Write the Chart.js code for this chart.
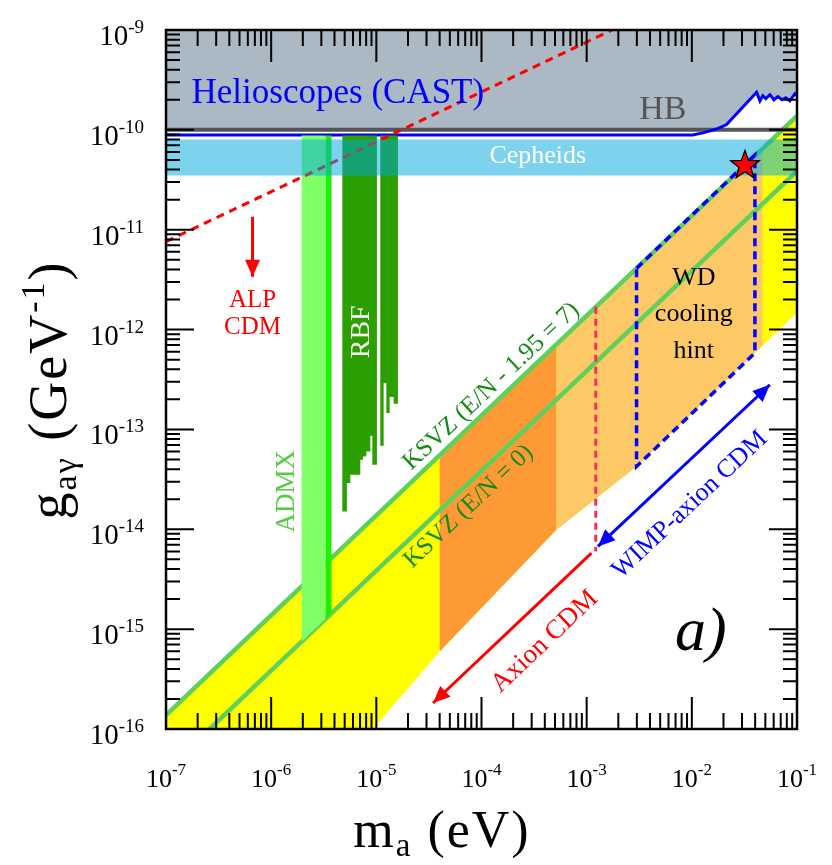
<!DOCTYPE html>
<html>
<head>
<meta charset="utf-8">
<script src="https://cdn.jsdelivr.net/npm/chart.js@4.4.1/dist/chart.umd.min.js"></script>
<style>
html,body{margin:0;padding:0;background:#fff}
canvas{display:block}
</style>
</head>
<body>
<canvas id="plot" width="832" height="865"></canvas>
<script>
// axis decades (log10) and minor tick multipliers
const xDecades = [-7, -6, -5, -4, -3, -2, -1]
const yDecades = [-16, -15, -14, -13, -12, -11, -10, -9]
const minorSteps = [2, 3, 4, 5, 6, 7, 8, 9]

// KSVZ lines, read at both edges of the plot
const ksvzMass = [1e-7, 1e-1]
const ksvzHighG = [1.38e-16, 1.38e-10]
const ksvzZeroG = [3.85e-17, 3.85e-11]

// lower edge of the yellow band, right to left
const bandLowMass = [1e-1, 3.98e-2, 2.98e-3, 5.16e-4, 4.0e-5, 9.3e-6, 4.5e-6, 1e-7]
const bandLowG = [1.47e-12, 5.83e-13, 4.26e-14, 9.9e-15, 5.96e-16, 1.0e-16, 4e-17, 4e-17]

// axion CDM (dark orange) and WIMP-axion CDM (light orange) pieces of the band
const orangeMass = [4.0e-5, 5.16e-4, 5.16e-4, 4.0e-5]
const orangeG = [5.52e-14, 7.12e-13, 9.9e-15, 5.96e-16]
const lightOrangeMass = [5.16e-4, 4.7e-2, 4.7e-2, 3.98e-2, 2.98e-3, 5.16e-4]
const lightOrangeG = [7.12e-13, 6.49e-11, 6.9e-13, 5.83e-13, 4.26e-14, 9.9e-15]

// CAST limit
const castMass = [1e-7, 5e-3, 1.02e-2, 1.27e-2, 1.72e-2, 2.14e-2, 4.13e-2, 4.44e-2, 4.73e-2, 5.05e-2, 5.52e-2, 6.03e-2, 6.58e-2, 7.18e-2, 7.83e-2, 8.55e-2, 9.55e-2, 1e-1]
const castG = [8.87e-11, 8.87e-11, 8.9e-11, 9.33e-11, 1.02e-10, 1.13e-10, 2.38e-10, 1.95e-10, 2.2e-10, 2.05e-10, 2.25e-10, 2.0e-10, 2.15e-10, 2.0e-10, 2.1e-10, 1.95e-10, 2.3e-10, 2.2e-10]

// excluded helioscope / HB region (outline)
const helioMass = [1e-7, 1e-1, 1e-1, 9.55e-2, 8.55e-2, 7.83e-2, 7.18e-2, 6.58e-2, 6.03e-2, 5.52e-2, 5.05e-2, 4.73e-2, 4.44e-2, 4.13e-2, 2.14e-2, 1.68e-2, 1e-7]
const helioG = [1e-9, 1e-9, 2.2e-10, 2.3e-10, 1.95e-10, 2.1e-10, 2.0e-10, 2.15e-10, 2.0e-10, 2.25e-10, 2.05e-10, 2.2e-10, 1.95e-10, 2.38e-10, 1.13e-10, 1.0e-10, 1.0e-10]
const hbMass = [1e-7, 1e-1]
const hbG = [1.0e-10, 1.0e-10]

// Cepheids band
const cephMass = [1e-7, 1e-1, 1e-1, 1e-7]
const cephG = [3.5e-11, 3.5e-11, 8.0e-11, 8.0e-11]

// ADMX
const admxMass = [1.95e-6, 3.3e-6, 3.3e-6, 1.95e-6]
const admxG = [8.8e-11, 8.8e-11, 1.27e-15, 7.5e-16]
const admxEdgeMass = [3.3e-6, 3.75e-6, 3.75e-6, 3.3e-6]
const admxEdgeG = [8.8e-11, 8.8e-11, 1.44e-15, 1.27e-15]

// RBF (two stepped blocks)
const rbfMassA = [4.75e-6, 4.75e-6, 5.25e-6, 5.25e-6, 5.66e-6, 5.66e-6, 7.04e-6, 7.04e-6, 7.46e-6, 7.46e-6, 8.03e-6, 8.03e-6, 8.77e-6, 8.77e-6, 9.16e-6, 9.16e-6, 1.013e-5, 1.013e-5]
const rbfGA = [8.8e-11, 1.51e-14, 1.51e-14, 2.9e-14, 2.9e-14, 3.52e-14, 3.52e-14, 4.97e-14, 4.97e-14, 5.36e-14, 5.36e-14, 6.02e-14, 6.02e-14, 8.65e-14, 8.65e-14, 4.43e-14, 4.43e-14, 8.8e-11]
const rbfMassB = [1.09e-5, 1.09e-5, 1.174e-5, 1.174e-5, 1.245e-5, 1.245e-5, 1.338e-5, 1.338e-5, 1.461e-5, 1.461e-5, 1.605e-5, 1.605e-5]
const rbfGB = [8.8e-11, 6.87e-14, 6.87e-14, 2.92e-13, 2.92e-13, 1.46e-13, 1.46e-13, 2.11e-13, 2.11e-13, 1.81e-13, 1.81e-13, 8.8e-11]

// ALP CDM line and arrow
const alpMass = [1e-7, 1.75e-3]
const alpG = [7.6e-12, 1e-9]
const alpArrowMass = [6.65e-7, 6.65e-7]
const alpArrowG = [1.35e-11, 3.39e-12]

// WD cooling hint outline
const wdMass = [2.98e-3, 3.98e-2, 3.98e-2, 2.98e-3, 2.98e-3]
const wdG = [4.12e-12, 5.6e-11, 5.83e-13, 4.26e-14, 4.12e-12]

// axion CDM boundary and arrows
const cdmEdgeMass = [1.22e-3, 1.22e-3]
const cdmEdgeG = [1.69e-12, 6.0e-15]
const axionArrowMass = [1.11e-3, 3.46e-5]
const axionArrowG = [5.77e-15, 1.82e-16]
const wimpArrowMass = [1.28e-3, 5.52e-2]
const wimpArrowG = [6.73e-15, 2.8e-13]

// the star
const starMass = [3.2e-2]
const starG = [4.4e-11]

const SERIF = '"Liberation Serif", serif'

function pts(xs, ys) {
  return xs.map((x, i) => ({x: x, y: ys[i]}))
}

function area(xs, ys, color) {
  return {data: pts(xs, ys), showLine: true, fill: 'shape', backgroundColor: color,
    borderColor: 'rgba(0,0,0,0)', borderWidth: 0, pointRadius: 0}
}

function line(xs, ys, color, width, dash) {
  return {data: pts(xs, ys), showLine: true, fill: false, borderColor: color,
    borderWidth: width, borderDash: dash || [], pointRadius: 0, borderCapStyle: 'butt'}
}

// bottom layer first
const layers = [
  area([1e-7, 1e-1].concat(bandLowMass), ksvzHighG.concat(bandLowG), '#ffff00'),
  area(orangeMass, orangeG, '#fe9a35'),
  area(lightOrangeMass, lightOrangeG, '#fdc966'),
  line(ksvzMass, ksvzHighG, '#5fd05a', 4.5),
  line(ksvzMass, ksvzZeroG, '#5fd05a', 4.5),
  area(helioMass, helioG, '#aab9c3'),
  line(hbMass, hbG, '#555555', 4),
  line(castMass, castG, '#0000ff', 3),
  area(admxMass, admxG, '#80ff66'),
  area(admxEdgeMass, admxEdgeG, '#22ee00'),
  area(rbfMassA, rbfGA, '#2ca000'),
  area(rbfMassB, rbfGB, '#2ca000'),
  line(alpMass, alpG, '#ff0000', 3, [8, 6]),
  area(cephMass, cephG, 'rgba(0,169,222,0.51)'),
  line(wdMass, wdG, '#0000ff', 3.5, [8, 5]),
  line(cdmEdgeMass, cdmEdgeG, '#f2305c', 3, [7, 5]),
  Object.assign(line(alpArrowMass, alpArrowG, '#ff0000', 3), {arrowAt: ['end']}),
  Object.assign(line(axionArrowMass, axionArrowG, '#ff0000', 3), {arrowAt: ['end']}),
  Object.assign(line(wimpArrowMass, wimpArrowG, '#0000ff', 3), {arrowAt: ['start', 'end']})
]
layers.forEach((d, i) => { d.order = layers.length - i })

const notes = [
  {text: 'Helioscopes (CAST)', m: 1.75e-7, g: 1.84e-10, size: 35, color: '#0000ff', align: 'left'},
  {text: 'HB', m: 5.3e-3, g: 1.27e-10, size: 34, color: '#555555'},
  {text: 'Cepheids', m: 3.43e-4, g: 4.7e-11, size: 26, color: '#ffffff'},
  {text: 'ALP', m: 6.65e-7, g: 1.69e-12, size: 25, color: '#ff0000'},
  {text: 'CDM', m: 6.65e-7, g: 9.1e-13, size: 25, color: '#ff0000'},
  {text: 'ADMX', m: 1.4e-6, g: 2.4e-14, size: 27, color: '#55cc44', angle: -90, middle: true},
  {text: 'RBF', m: 7.24e-6, g: 9.5e-13, size: 28, color: '#ffffff', angle: -90, middle: true},
  {text: 'KSVZ (E/N - 1.95 = 7)', m: 1.24e-4, g: 2.7e-13, size: 25, color: '#138a13', angle: -43.3, middle: true},
  {text: 'KSVZ (E/N = 0)', m: 7.55e-5, g: 1.69e-14, size: 25, color: '#138a13', angle: -43.3, middle: true},
  {text: 'WD', m: 1.045e-2, g: 2.82e-12, size: 26, color: '#000000'},
  {text: 'cooling', m: 1.045e-2, g: 1.21e-12, size: 26, color: '#000000'},
  {text: 'hint', m: 1.045e-2, g: 5.22e-13, size: 26, color: '#000000'},
  {text: 'Axion CDM', m: 3.99e-4, g: 7.52e-16, size: 27, color: '#ff0000', angle: -43.5, middle: true},
  {text: 'WIMP-axion CDM', m: 9.57e-3, g: 1.76e-14, size: 26, color: '#0000ff', angle: -43.3, middle: true},
  {text: 'a)', m: 1.22e-2, g: 6.2e-16, size: 62, color: '#000000', italic: true}
]

function runs(ctx, parts, x, y) {
  let total = 0
  parts.forEach(p => { ctx.font = p.size + 'px ' + SERIF; p.w = ctx.measureText(p.t).width; total += p.w })
  let cx = x - total / 2
  parts.forEach(p => {
    ctx.font = p.size + 'px ' + SERIF
    ctx.fillText(p.t, cx, y + (p.dy || 0))
    cx += p.w
  })
}

function power(ctx, exp, x, y, big, small, rise, align) {
  ctx.font = big + 'px ' + SERIF
  const w1 = ctx.measureText('10').width
  ctx.font = small + 'px ' + SERIF
  const w2 = ctx.measureText(exp).width
  const x0 = align === 'right' ? x - w1 - w2 : x - (w1 + w2) / 2
  ctx.font = big + 'px ' + SERIF
  ctx.fillText('10', x0, y)
  ctx.font = small + 'px ' + SERIF
  ctx.fillText(exp, x0 + w1, y - rise)
}

const decorations = {
  id: 'decorations',
  afterDatasetsDraw(chart) {
    const {ctx, scales} = chart
    const sx = scales.x, sy = scales.y
    ctx.save()
    ctx.beginPath()
    ctx.rect(chart.chartArea.left, chart.chartArea.top, chart.chartArea.width, chart.chartArea.height)
    ctx.clip()

    // arrow heads
    chart.data.datasets.forEach((ds, i) => {
      if (!ds.arrowAt) return
      const p = chart.getDatasetMeta(i).data
      ds.arrowAt.forEach(which => {
        const tip = which === 'end' ? p[p.length - 1] : p[0]
        const from = which === 'end' ? p[p.length - 2] : p[1]
        const a = Math.atan2(tip.y - from.y, tip.x - from.x)
        ctx.save()
        ctx.translate(tip.x, tip.y)
        ctx.rotate(a)
        ctx.fillStyle = ds.borderColor
        ctx.beginPath()
        ctx.moveTo(0, 0)
        ctx.lineTo(-17, -7.5)
        ctx.lineTo(-17, 7.5)
        ctx.closePath()
        ctx.fill()
        ctx.restore()
      })
    })

    // star
    const px = sx.getPixelForValue(starMass[0]), py = sy.getPixelForValue(starG[0])
    ctx.beginPath()
    for (let k = 0; k < 10; k++) {
      const r = k % 2 === 0 ? 15 : 6.2
      const t = -Math.PI / 2 + k * Math.PI / 5
      ctx.lineTo(px + r * Math.cos(t), py + r * Math.sin(t))
    }
    ctx.closePath()
    ctx.fillStyle = '#ff0000'
    ctx.fill()
    ctx.lineWidth = 1.3
    ctx.strokeStyle = '#000'
    ctx.stroke()

    // labels inside the plot
    notes.forEach(n => {
      ctx.save()
      ctx.translate(sx.getPixelForValue(n.m), sy.getPixelForValue(n.g))
      if (n.angle) ctx.rotate(n.angle * Math.PI / 180)
      ctx.font = (n.italic ? 'italic ' : '') + n.size + 'px ' + SERIF
      ctx.fillStyle = n.color
      ctx.textAlign = n.align || 'center'
      ctx.textBaseline = n.middle ? 'middle' : 'alphabetic'
      ctx.fillText(n.text, 0, 0)
      ctx.restore()
    })
    ctx.restore()
  },
  afterDraw(chart) {
    const {ctx, chartArea: a, scales} = chart
    const sx = scales.x, sy = scales.y
    ctx.save()
    ctx.strokeStyle = '#000'
    ctx.lineWidth = 2
    ctx.beginPath()
    xDecades.forEach(e => {
      [1].concat(minorSteps).forEach(k => {
        const v = k * Math.pow(10, e)
        if (v > sx.max * 1.001) return
        const p = sx.getPixelForValue(v)
        const len = k === 1 ? 32 : 16
        ctx.moveTo(p, a.bottom); ctx.lineTo(p, a.bottom - len)
        ctx.moveTo(p, a.top); ctx.lineTo(p, a.top + len)
      })
    })
    yDecades.forEach(e => {
      [1].concat(minorSteps).forEach(k => {
        const v = k * Math.pow(10, e)
        if (v > sy.max * 1.001) return
        const p = sy.getPixelForValue(v)
        const len = k === 1 ? 28 : 14
        ctx.moveTo(a.left, p); ctx.lineTo(a.left + len, p)
        ctx.moveTo(a.right, p); ctx.lineTo(a.right - len, p)
      })
    })
    ctx.stroke()
    ctx.lineWidth = 2.5
    ctx.strokeRect(a.left, a.top, a.right - a.left, a.bottom - a.top)

    // tick labels
    ctx.fillStyle = '#000'
    ctx.textAlign = 'left'
    ctx.textBaseline = 'alphabetic'
    xDecades.forEach(e => {
      power(ctx, String(e), sx.getPixelForValue(Math.pow(10, e)), a.bottom + 58, 26, 17, 12, 'center')
    })
    yDecades.forEach(e => {
      power(ctx, String(e), a.left - 22, sy.getPixelForValue(Math.pow(10, e)) + 15, 29, 19, 12, 'right')
    })

    // axis titles
    ctx.letterSpacing = '2px'
    runs(ctx, [{t: 'm', size: 52}, {t: 'a', size: 33, dy: 9}, {t: ' (eV)', size: 52}], 442, a.bottom + 118)
    ctx.save()
    ctx.translate(a.left - 100, 390)
    ctx.rotate(-Math.PI / 2)
    runs(ctx, [{t: 'g', size: 54}, {t: 'aγ', size: 34, dy: 10}, {t: ' (GeV', size: 54},
      {t: '-1', size: 34, dy: -22}, {t: ')', size: 54}], 0, 0)
    ctx.restore()
    ctx.restore()
  }
}

new Chart(document.getElementById('plot'), {
  type: 'scatter',
  data: {datasets: layers},
  options: {
    responsive: false,
    animation: false,
    devicePixelRatio: 1,
    layout: {padding: {left: 166, right: 35, top: 30, bottom: 136}},
    plugins: {legend: {display: false}, tooltip: {enabled: false}},
    elements: {line: {tension: 0}},
    scales: {
      x: {type: 'logarithmic', min: 1e-7, max: 1e-1, display: false},
      y: {type: 'logarithmic', min: 1e-16, max: 1e-9, display: false}
    }
  },
  plugins: [decorations]
})
</script>
</body>
</html>
